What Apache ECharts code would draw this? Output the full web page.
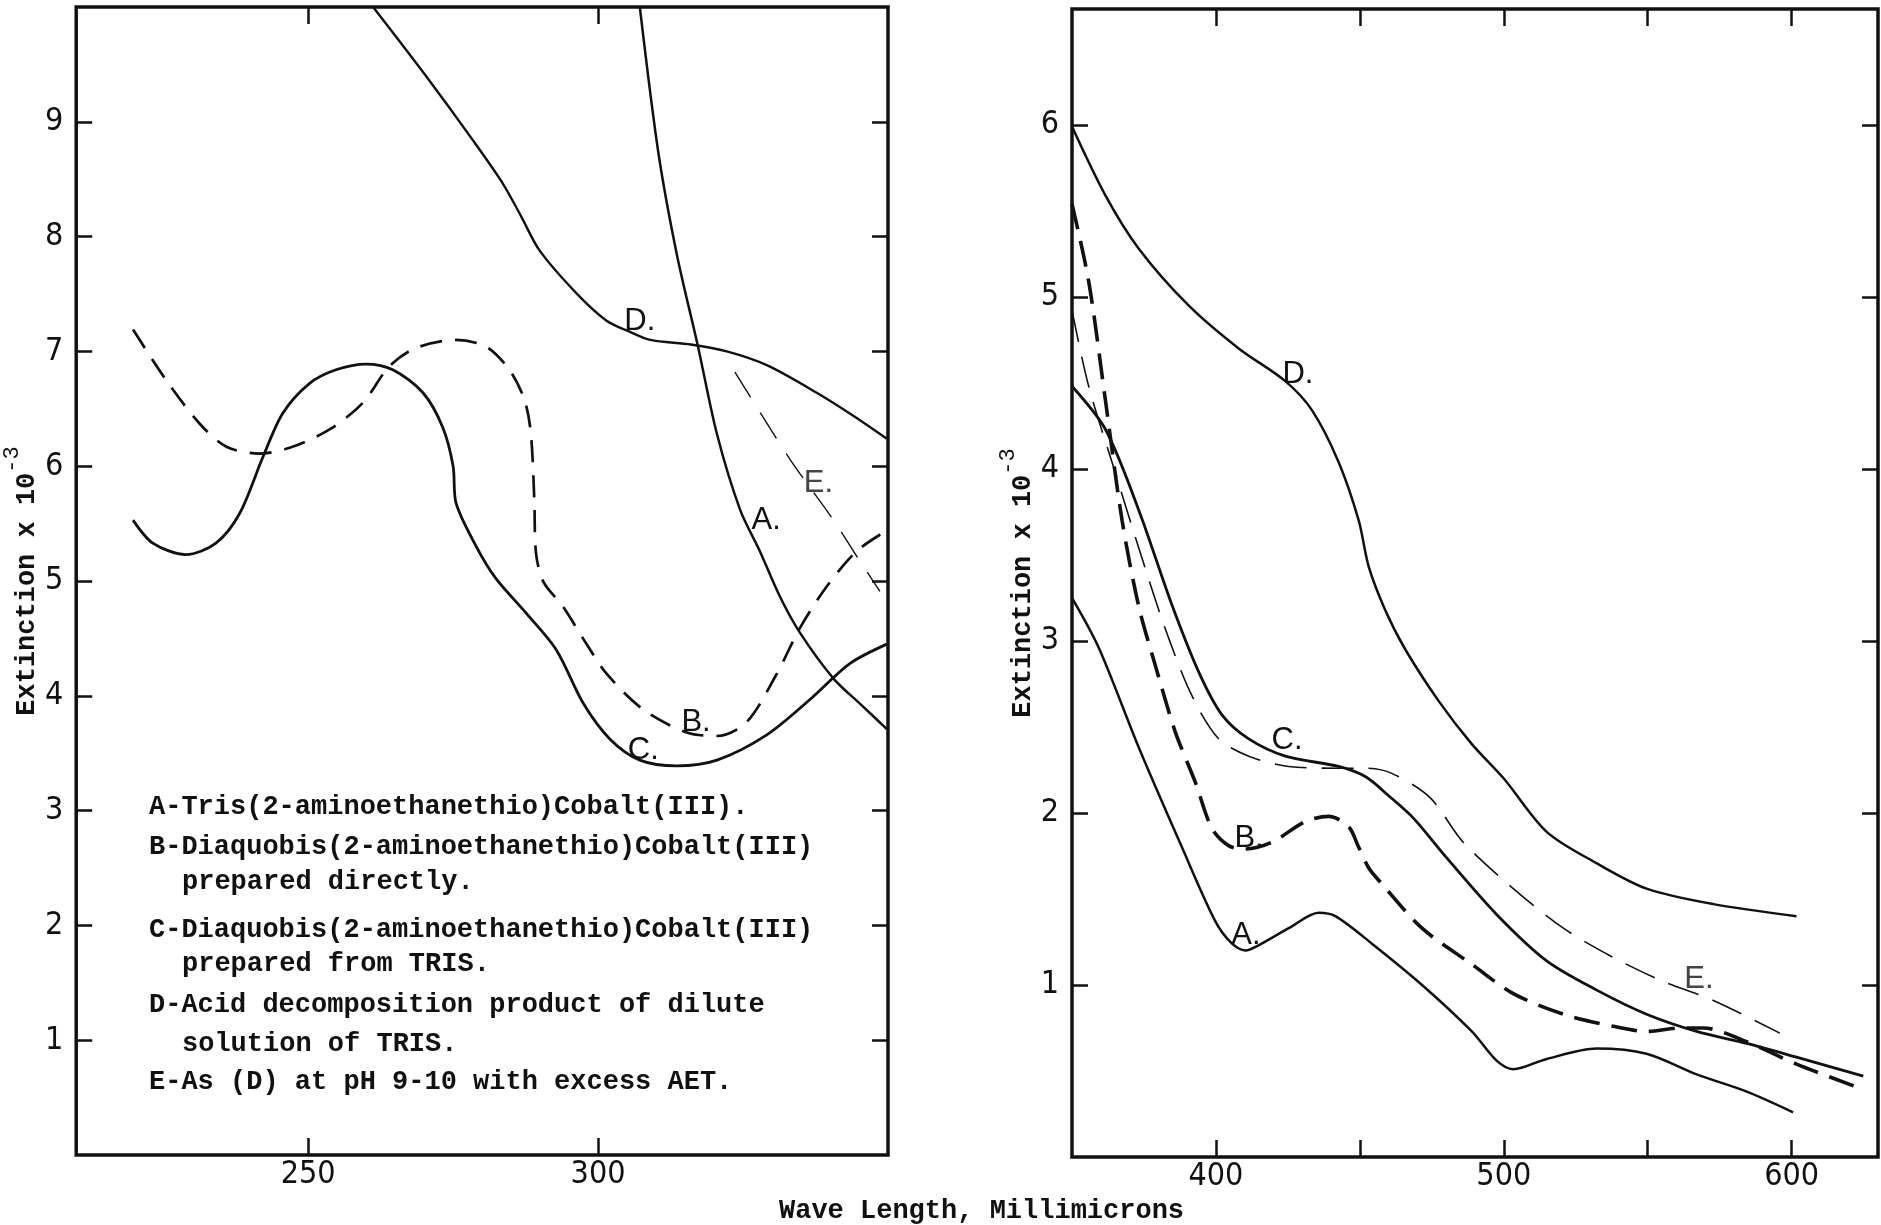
<!DOCTYPE html>
<html>
<head>
<meta charset="utf-8">
<script src="https://cdn.jsdelivr.net/npm/echarts@6/dist/echarts.min.js"></script>
<style>
html,body{margin:0;padding:0;background:#fff;}
#chart{width:1881px;height:1225px;}
</style>
</head>
<body>
<div id="chart"></div>
<script>
// ---------- Left panel (220-350 m\u00b5) ----------
const leftA = [[307.2,10.0],[310.4,8.73],[313.6,7.84],[317.2,7.05],[320.5,6.28],[324.5,5.62],[327.9,5.26],[331.4,4.86],[334.8,4.55],[340.6,4.15],[345.2,3.93],[349.8,3.71]];
const leftB = [[219.8,7.19],[225.5,6.75],[231.3,6.37],[235.9,6.17],[241.6,6.11],[246.8,6.16],[253.7,6.32],[259.4,6.55],[264,6.87],[268.6,7.03],[275.5,7.10],[280.7,7.04],[284.7,6.84],[287.3,6.58],[288.4,6.29],[289.0,5.71],[289.3,5.24],[290.6,4.99],[293.9,4.78],[297.9,4.46],[301.5,4.19],[307.8,3.88],[315.3,3.68],[320.5,3.65],[325.6,3.77],[330.8,4.19],[334.8,4.59],[339.4,4.95],[344.6,5.26],[349.8,5.44]];
const leftC = [[219.8,5.53],[223.2,5.33],[228.9,5.23],[234.1,5.33],[238.2,5.59],[242.2,6.08],[245.6,6.46],[250.2,6.72],[254.8,6.84],[260,6.89],[264.6,6.84],[269.8,6.64],[273.2,6.34],[275,6.0],[275.5,5.68],[279,5.30],[282.4,5.02],[287.6,4.72],[292.8,4.40],[297.5,3.93],[302.1,3.62],[307.2,3.44],[313.6,3.39],[320.5,3.44],[329.1,3.66],[336.6,3.97],[343.4,4.28],[349.8,4.45]];
const leftD = [[261.2,10.0],[270,9.42],[278.4,8.84],[283.6,8.46],[286.8,8.17],[289.9,7.88],[296.2,7.51],[301.4,7.27],[305.5,7.17],[309,7.10],[316,7.06],[322.2,7.0],[329.1,6.88],[337.7,6.64],[344,6.44],[349.8,6.24]];
const leftE = [[323.6,6.82],[333.1,6.06],[340.6,5.53],[345.2,5.17],[348.6,4.91]];

// ---------- Right panel (350-630 m\u00b5) ----------
const rightA = [[350,3.25],[359.3,2.96],[373.2,2.38],[388.2,1.80],[399.8,1.37],[405.6,1.24],[410.2,1.20],[414.8,1.23],[425.3,1.33],[435.7,1.42],[441.5,1.40],[454.2,1.24],[471.6,1.00],[488.9,0.73],[497.5,0.56],[503.3,0.51],[514.9,0.57],[532.3,0.63],[549.6,0.60],[567,0.48],[584.4,0.38],[600.5,0.26]];
const rightB = [[350,5.54],[355.8,5.09],[361.6,4.40],[367.4,3.70],[373.2,3.20],[378.9,2.86],[385.9,2.47],[392.8,2.18],[398.6,1.91],[404.4,1.81],[410.2,1.79],[419.5,1.83],[431,1.95],[439.2,1.98],[446.1,1.92],[449.6,1.80],[453.1,1.68],[457,1.60],[471.6,1.33],[488.9,1.12],[503.3,0.95],[520.7,0.83],[538,0.76],[549.6,0.73],[561.2,0.75],[569.3,0.75],[584.4,0.67],[601.7,0.54],[623.7,0.40]];
const rightC = [[350,4.48],[361.6,4.23],[373.2,3.76],[384.7,3.21],[394,2.82],[402.1,2.57],[411.4,2.43],[424.1,2.33],[442.6,2.27],[452,2.21],[460,2.10],[468.6,1.97],[480.1,1.74],[497.5,1.41],[514.9,1.14],[532.3,0.97],[549.6,0.83],[567,0.73],[584.4,0.66],[601.7,0.58],[624.9,0.47]];
const rightD = [[350,5.99],[361.6,5.59],[373.2,5.28],[390.5,4.95],[407.9,4.70],[424.1,4.51],[433.4,4.34],[442.6,4.04],[449.6,3.70],[453.1,3.43],[458.8,3.18],[465.8,2.95],[477.4,2.65],[488.9,2.40],[500,2.20],[514.9,1.89],[532,1.71],[549.6,1.56],[572.8,1.47],[601.7,1.40]];
const rightE = [[350,4.92],[355.8,4.48],[365,3.98],[373.2,3.54],[382.4,3.07],[391.7,2.68],[401,2.43],[411.4,2.33],[425.3,2.27],[442.6,2.26],[451.9,2.26],[461.1,2.23],[474.3,2.09],[485.9,1.83],[503.3,1.56],[520.7,1.33],[538,1.16],[555.4,1.02],[572.8,0.91],[595.9,0.72]];

// ---------- Tick labels ----------
const leftXLabels = [250, 300];
const leftYLabels = [1,2,3,4,5,6,7,8,9];
const rightXLabels = [400, 500, 600];
const rightXTicks = [400, 450, 500, 550, 600];
const rightYLabels = [1,2,3,4,5,6];

// ---------- Curve letter anchors (data coords) ----------
const leftLetters = [['A.',329,5.53],['B.',316.9,3.77],['C.',307.8,3.52],['D.',307.2,7.26],['E.',338,5.85]];
const rightLetters = [['A.',410.4,1.29],['B.',411.5,1.85],['C.',424.7,2.42],['D.',428.5,4.55],['E.',567.8,1.03]];

const legendLines = [
  ['A-Tris(2-aminoethanethio)Cobalt(III).', 0],
  ['B-Diaquobis(2-aminoethanethio)Cobalt(III)', 0],
  ['prepared directly.', 1],
  ['C-Diaquobis(2-aminoethanethio)Cobalt(III)', 0],
  ['prepared from TRIS.', 1],
  ['D-Acid decomposition product of dilute', 0],
  ['solution of TRIS.', 1],
  ['E-As (D) at pH 9-10 with excess AET.', 0]
];
const xTitle = 'Wave Length, Millimicrons';
const yTitle = 'Extinction x 10';
const yTitleSup = '-3';

// ---------- Build ----------
const MONO = "'Liberation Mono', 'DejaVu Sans Mono', monospace";
const NARROW = "'Liberation Sans Narrow', 'DejaVu Sans Condensed', 'Liberation Sans', sans-serif";
const SANS = "'Liberation Sans', Arial, sans-serif";
const INK = '#111';

const chart = echarts.init(document.getElementById('chart'), null, {renderer: 'canvas'});

function xAxis(grid, pos, min, max, labels, ticks, showLabel) {
  return {
    type: 'value', gridIndex: grid, position: pos, min: min, max: max,
    axisLine: {show: false, onZero: false},
    splitLine: {show: false},
    axisTick: {show: true, inside: true, length: 17, customValues: ticks, lineStyle: {color: INK, width: 2.5}},
    axisLabel: {show: showLabel, customValues: labels, margin: 4, color: INK, fontFamily: NARROW, fontSize: 32}
  };
}
function yAxis(grid, pos, min, max, labels, showLabel, name, gap) {
  const ax = {
    type: 'value', gridIndex: grid, position: pos, min: min, max: max,
    axisLine: {show: false, onZero: false},
    splitLine: {show: false},
    axisTick: {show: true, inside: true, length: 16, customValues: labels, lineStyle: {color: INK, width: 2.5}},
    axisLabel: {show: showLabel, customValues: labels, margin: 13, color: INK, fontFamily: NARROW, fontSize: 32}
  };
  if (name) {
    ax.name = '{a|' + yTitle + '}{b|' + yTitleSup + '}';
    ax.nameLocation = 'middle';
    ax.nameRotate = 90;
    ax.nameGap = gap;
    ax.nameTextStyle = {
      rich: {
        a: {fontFamily: MONO, fontSize: 27, fontWeight: 'bold', color: INK, lineHeight: 40, verticalAlign: 'bottom'},
        b: {fontFamily: MONO, fontSize: 22, color: INK, lineHeight: 40, verticalAlign: 'top'}
      }
    };
  }
  return ax;
}

function letters(list) {
  return {
    symbol: 'circle', symbolSize: 0, silent: true,
    data: list.map(l => ({name: l[0], coord: [l[1], l[2]],
      label: {show: true, position: 'inside', formatter: '{b}', fontFamily: SANS, fontSize: 31,
              color: l[0] === 'E.' ? '#444' : INK, fontWeight: l[0] === 'E.' ? 'lighter' : 'normal'}}))
  };
}

function line(data, xi, yi, width, dash, mp) {
  const s = {
    type: 'line', data: data, xAxisIndex: xi, yAxisIndex: yi,
    showSymbol: false, symbol: 'none', smooth: 0.3,
    lineStyle: {color: INK, width: width, type: dash || 'solid'},
    silent: true, animation: false, z: 3
  };
  if (mp) s.markPoint = mp;
  return s;
}

const graphic = [];
const lineYs = [810, 850, 885, 933, 967, 1008, 1047, 1085];
legendLines.forEach((l, i) => {
  graphic.push({type: 'text', left: l[1] ? 182 : 149, top: lineYs[i] - 16,
    style: {text: l[0], font: "bold 27px " + MONO, fill: INK}});
});
graphic.push({type: 'text', left: 779, top: 1198,
  style: {text: xTitle, font: "bold 27px " + MONO, fill: INK}});

const option = {
  backgroundColor: '#ffffff',
  animation: false,
  grid: [
    {left: 76, top: 7, width: 812, height: 1148, show: true, borderColor: INK, borderWidth: 3.5, backgroundColor: 'transparent'},
    {left: 1072, top: 9, width: 806, height: 1148, show: true, borderColor: INK, borderWidth: 3.5, backgroundColor: 'transparent'}
  ],
  xAxis: [
    xAxis(0, 'bottom', 210, 350, leftXLabels, leftXLabels, true),
    xAxis(0, 'top', 210, 350, leftXLabels, leftXLabels, false),
    xAxis(1, 'bottom', 350, 630, rightXLabels, rightXTicks, true),
    xAxis(1, 'top', 350, 630, rightXLabels, rightXTicks, false)
  ],
  yAxis: [
    yAxis(0, 'left', 0, 10, leftYLabels, true, true, 26),
    yAxis(0, 'right', 0, 10, leftYLabels, false, false),
    yAxis(1, 'left', 0, 6.673, rightYLabels, true, true, 26),
    yAxis(1, 'right', 0, 6.673, rightYLabels, false, false)
  ],
  series: [
    line(leftA, 0, 0, 2.5, null, letters(leftLetters)),
    line(leftB, 0, 0, 2.7, [22, 13]),
    line(leftC, 0, 0, 2.8),
    line(leftD, 0, 0, 2.4),
    line(leftE, 0, 0, 1.4, [30, 18]),
    line(rightA, 2, 2, 2.5, null, letters(rightLetters)),
    line(rightB, 2, 2, 3.6, [26, 12]),
    line(rightC, 2, 2, 2.8),
    line(rightD, 2, 2, 2.5),
    line(rightE, 2, 2, 1.6, [32, 15])
  ],
  graphic: graphic
};
chart.setOption(option);
</script>
</body>
</html>
